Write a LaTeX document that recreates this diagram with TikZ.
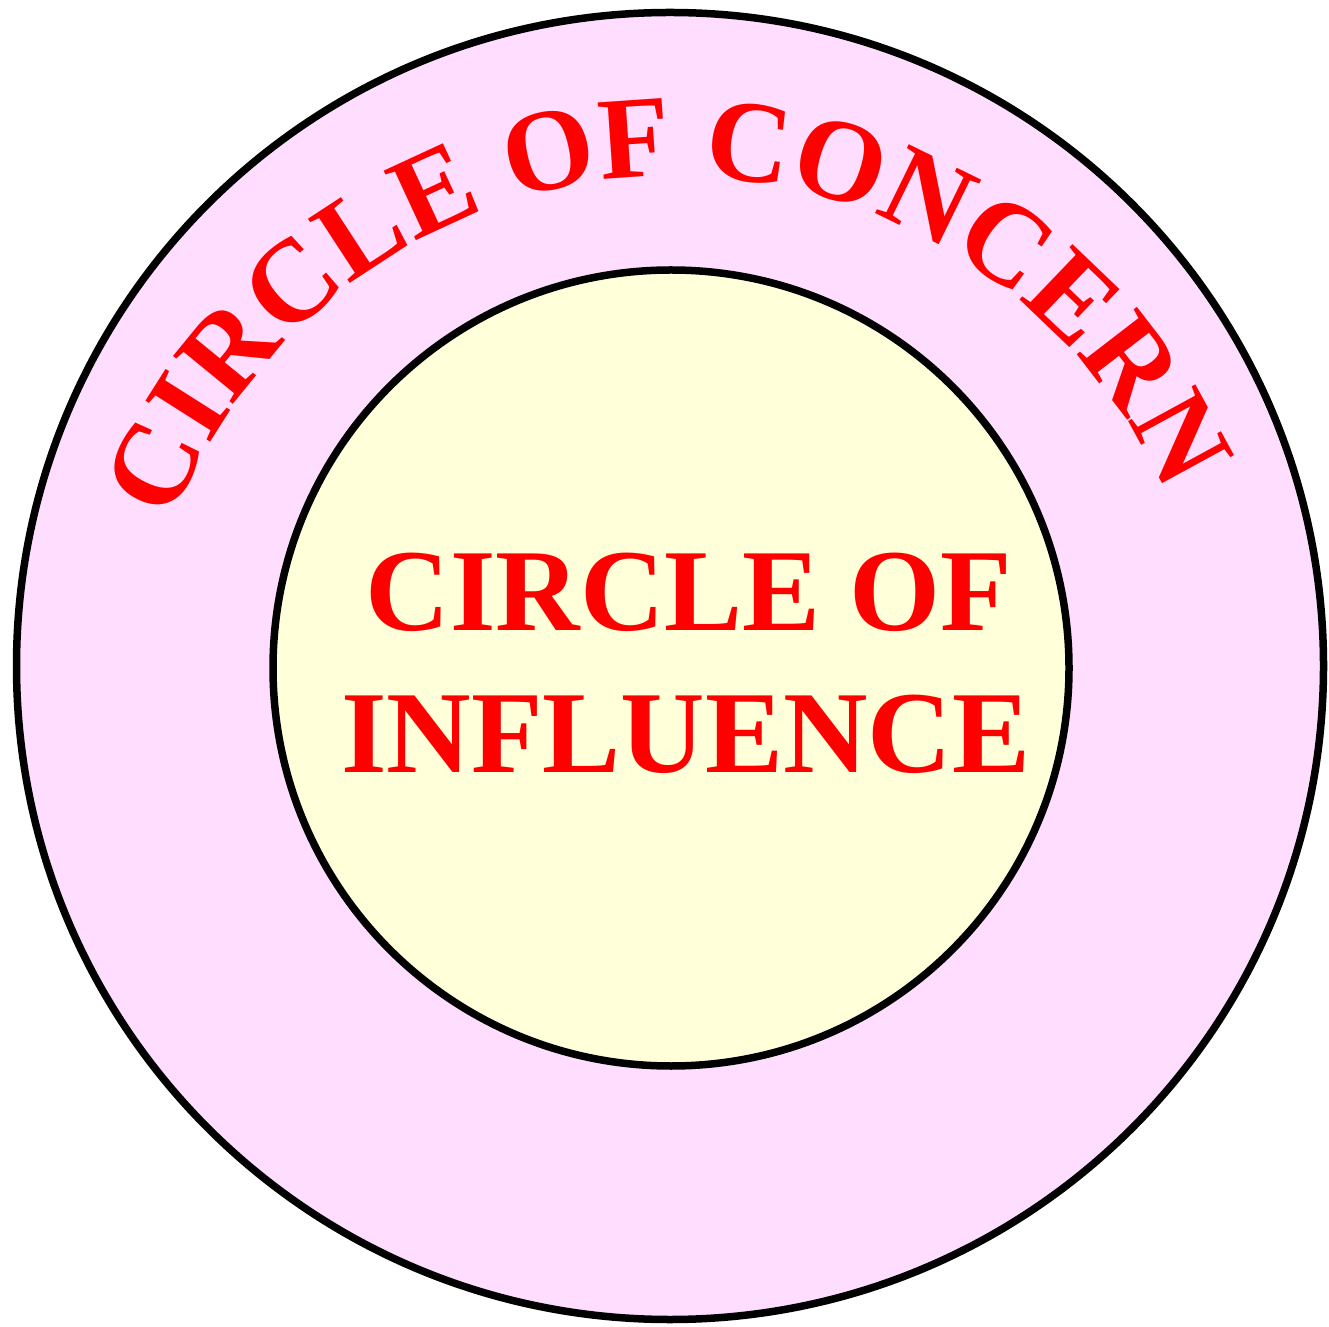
\documentclass[tikz,border=0pt]{standalone}
\usepackage{fontspec}
\setmainfont{Liberation Serif}
\usetikzlibrary{decorations.text}
\definecolor{concernpink}{HTML}{FFDDFF}
\definecolor{influenceyellow}{HTML}{FFFFD9}
\definecolor{labelred}{HTML}{FF0000}
\begin{document}
\begin{tikzpicture}[x=1pt,y=1pt,
  ring/.style={circle, draw=black, line width=7.5pt, inner sep=0pt, outer sep=0pt},
  bigtext/.style={text=labelred, font=\bfseries\fontsize{117}{141}\selectfont, inner sep=0pt, anchor=base}]
\useasboundingbox (0,0) rectangle (1329,1326);
\node[ring, fill=concernpink, minimum size=1307pt] (concern) at (670,660) {};
\node[ring, fill=influenceyellow, minimum size=796pt] (influence) at (671,658) {};
\node[bigtext] (line1) at (689,695) {CIRCLE OF};
\node[bigtext] (line2) at (686,554) {INFLUENCE};
\coordinate (arcc) at (675,612);
\path[decorate, decoration={text along path, text align=center, text color=labelred,
  text={|\bfseries\fontsize{117}{117}\selectfont|CIRCLE OF CONCERN}}]
  (arcc) ++(171.6:538) arc[start angle=171.6, end angle=11.6, radius=538];
\end{tikzpicture}
\end{document}
